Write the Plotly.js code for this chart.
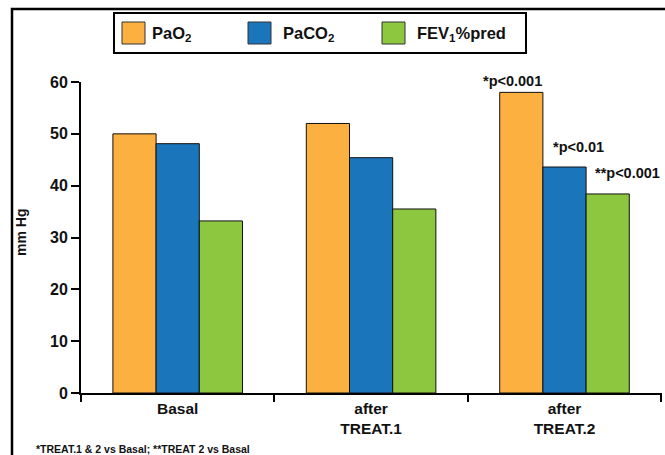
<!DOCTYPE html>
<html>
<head>
<meta charset="utf-8">
<script src="https://cdn.plot.ly/plotly-3.0.1.min.js"></script>
<style>html,body{margin:0;padding:0;background:#fff;}#chart{width:665px;height:455px;}</style>
</head>
<body>
<div id="chart"></div>
<script>
const categories = ["Basal", "after<br>TREAT.1", "after<br>TREAT.2"];
const seriesNames = ["PaO<sub>2</sub>", "PaCO<sub>2</sub>", "FEV<sub>1</sub>%pred"];
const pao2 = [50, 52, 58];
const paco2 = [48.1, 45.4, 43.6];
const fev1 = [33.2, 35.5, 38.4];
const yTicks = [0, 10, 20, 30, 40, 50, 60];
const sigLabels = ["*p<0.001", "*p<0.01", "**p<0.001"];
const footnote = "*TREAT.1 &amp; 2 vs Basal; **TREAT 2 vs Basal";
const yTitle = "mm Hg";

const colors = ["#FBB040", "#1B75BB", "#8DC63F"];
const series = [pao2, paco2, fev1];

const font = "Liberation Sans, Arial, sans-serif";

const traces = series.map((vals, i) => ({
  type: "bar",
  x: categories,
  y: vals,
  name: seriesNames[i],
  marker: {color: colors[i], line: {color: "#111", width: 1}},
  showlegend: false,
  hoverinfo: "skip"
}));

// custom legend (swatches + labels)
const legX = [122, 248, 382];
const legTextX = [150, 281, 415];
const W = 665, L = 81, R = 3, T = 82, B = 62;
const pw = W - L - R, ph = 455 - T - B;
const px = p => (p - L) / pw;
const py = p => (455 - B - p) / ph;

const shapes = [
  // outer frame
  {type: "rect", xref: "paper", yref: "paper", x0: px(12), x1: px(700), y0: py(500), y1: py(9),
   line: {color: "#000", width: 2.5}, fillcolor: "rgba(0,0,0,0)", layer: "below"},
  // legend box
  {type: "rect", xref: "paper", yref: "paper", x0: px(114), x1: px(526), y0: py(53), y1: py(13),
   line: {color: "#000", width: 2}, fillcolor: "rgba(0,0,0,0)"}
];
const annotations = [];
seriesNames.forEach((n, i) => {
  shapes.push({type: "rect", xref: "paper", yref: "paper", x0: px(legX[i]), x1: px(legX[i] + 23),
    y0: py(44), y1: py(22), line: {color: "#333", width: 1}, fillcolor: colors[i]});
  annotations.push({xref: "paper", yref: "paper", x: px(legTextX[i]), y: py(34), xanchor: "left", yanchor: "middle",
    text: n, showarrow: false, font: {family: font, size: 16.5, color: "#111", weight: "bold"}});
});

// significance labels over TREAT.2 group
const sigShiftX = [-52, 14, 63];
const sigShiftY = [11, 20, 21];
sigLabels.forEach((t, i) => {
  annotations.push({xref: "x", yref: "y", x: categories[2], y: series[i][2], xshift: sigShiftX[i], yshift: sigShiftY[i],
    xanchor: "center", yanchor: "middle", text: t, showarrow: false,
    font: {family: font, size: 14.5, color: "#111", weight: "bold"}});
});

annotations.push({xref: "paper", yref: "paper", x: px(34), y: py(449), xanchor: "left", yanchor: "middle",
  text: footnote, showarrow: false, font: {family: font, size: 10.5, color: "#111", weight: "bold"}});

annotations.push({xref: "paper", yref: "paper", x: px(21), y: py(233), xanchor: "center", yanchor: "middle",
  textangle: -90, text: yTitle, showarrow: false, font: {family: font, size: 14, color: "#111", weight: "bold"}});

const layout = {
  width: 665, height: 455,
  margin: {l: L, r: R, t: T, b: B, pad: 0},
  paper_bgcolor: "#fff", plot_bgcolor: "#fff",
  barmode: "group", bargap: 0.33, bargroupgap: 0,
  font: {family: font, color: "#111"},
  xaxis: {
    type: "category", showline: true, linecolor: "#000", linewidth: 2,
    ticks: "outside", tickson: "boundaries", ticklen: 7, tickwidth: 2, tickcolor: "#000",
    tickfont: {family: font, size: 15.5, color: "#111", weight: "bold"}, showgrid: false, zeroline: false,
    fixedrange: true
  },
  yaxis: {
    range: [0, 60], tickvals: yTicks,
    showline: true, linecolor: "#000", linewidth: 2,
    ticks: "outside", ticklen: 8, tickwidth: 2, tickcolor: "#000",
    tickfont: {family: font, size: 16, color: "#111", weight: "bold"}, showgrid: false, zeroline: false,
    automargin: false
  },
  shapes: shapes,
  annotations: annotations,
  showlegend: false
};

Plotly.newPlot("chart", traces, layout, {displayModeBar: false, staticPlot: true});
</script>
</body>
</html>
